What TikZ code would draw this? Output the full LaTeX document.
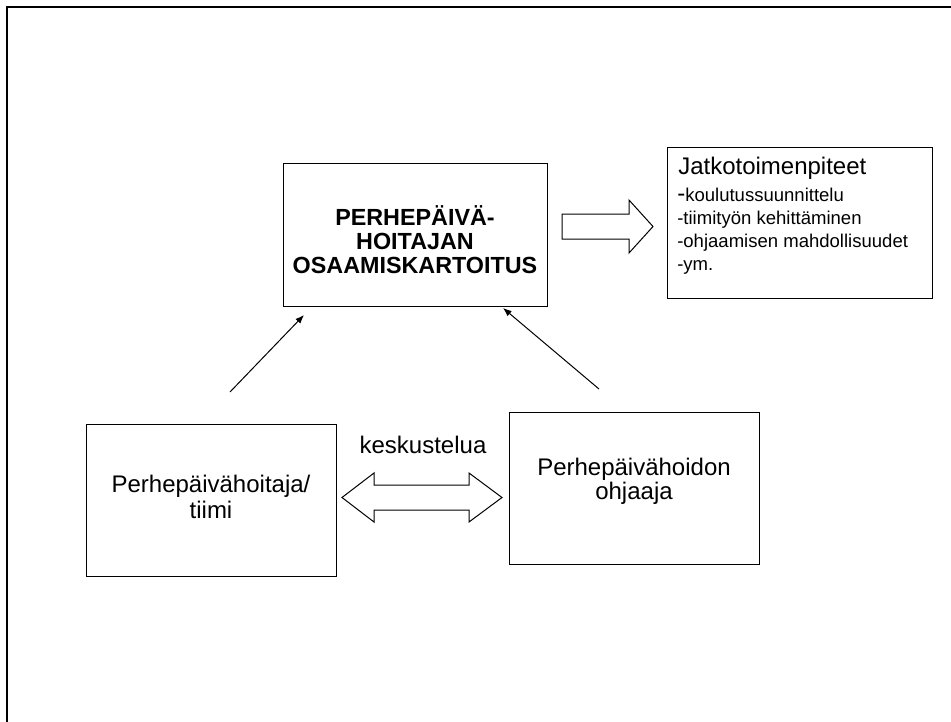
\documentclass[tikz,border=0pt]{standalone}
\usepackage{fontspec}
\setmainfont{Liberation Sans}
\usetikzlibrary{arrows.meta}
\begin{document}
\begin{tikzpicture}[x=0.75pt,y=-0.75pt,
  box/.style={draw, line width=0.75pt, inner sep=0pt},
  lbl/.style={inner sep=0pt, font=\fontsize{18}{18}\selectfont},
  blbl/.style={inner sep=0pt, font=\bfseries\fontsize{17.5}{18}\selectfont},
  slbl/.style={inner sep=0pt, font=\fontsize{13.9}{14}\selectfont},
  conn/.style={-{Latex[length=6.5pt,width=5pt]}, line width=0.75pt},
  blk/.style={draw, line width=0.75pt, fill=white, line join=miter}]
\useasboundingbox (0,0) rectangle (951,722);
\draw[line width=1.5pt] (7,722) -- (7,7) -- (951,7);

% boxes
\node[box, minimum width=198pt, minimum height=107.25pt] (main) at (415,234.5) {};
\node[box, minimum width=198.75pt, minimum height=113.25pt] (jatko) at (799.5,222.5) {};
\node[box, minimum width=187.5pt, minimum height=114pt] (hoitaja) at (211,500) {};
\node[box, minimum width=187.5pt, minimum height=114pt] (ohjaaja) at (634,488) {};

% texts
\node[blbl, anchor=base] (m1) at (415,225) {PERHEPÄIVÄ-};
\node[blbl, anchor=base] (m2) at (415,249) {HOITAJAN};
\node[blbl, anchor=base] (m3) at (415,273) {OSAAMISKARTOITUS};

\node[lbl, anchor=base west] (j0) at (678,174) {Jatkotoimenpiteet};
\node[slbl, anchor=base west] (j1) at (677,201) {{\fontsize{18}{18}\selectfont -}koulutussuunnittelu};
\node[slbl, anchor=base west] (j2) at (677,224.5) {-tiimityön kehittäminen};
\node[slbl, anchor=base west] (j3) at (677,247.5) {-ohjaamisen mahdollisuudet};
\node[slbl, anchor=base west] (j4) at (677,270.5) {-ym.};

\node[lbl, anchor=base] (h1) at (211,492) {Perhepäivähoitaja/};
\node[lbl, anchor=base] (h2) at (211,518) {tiimi};
\node[lbl, anchor=base] (o1) at (634,475) {Perhepäivähoidon};
\node[lbl, anchor=base] (o2) at (634,499) {ohjaaja};
\node[lbl, anchor=base] (kesk) at (423,453) {keskustelua};

% block arrows
\draw[blk] (562,214) -- (629,214) -- (629,200) -- (653,226.5) -- (629,253) -- (629,239) -- (562,239) -- cycle;
\draw[blk] (342,497.5) -- (374,473) -- (374,485) -- (469,485) -- (469,473) -- (502,497.5) -- (469,522) -- (469,510) -- (374,510) -- (374,522) -- cycle;

% line arrows
\coordinate (a1s) at (230,392);
\coordinate (a1e) at (304,315);
\coordinate (a2s) at (599,389);
\coordinate (a2e) at (503,308);
\draw[conn] (a1s) -- (a1e);
\draw[conn] (a2s) -- (a2e);
\end{tikzpicture}
\end{document}
